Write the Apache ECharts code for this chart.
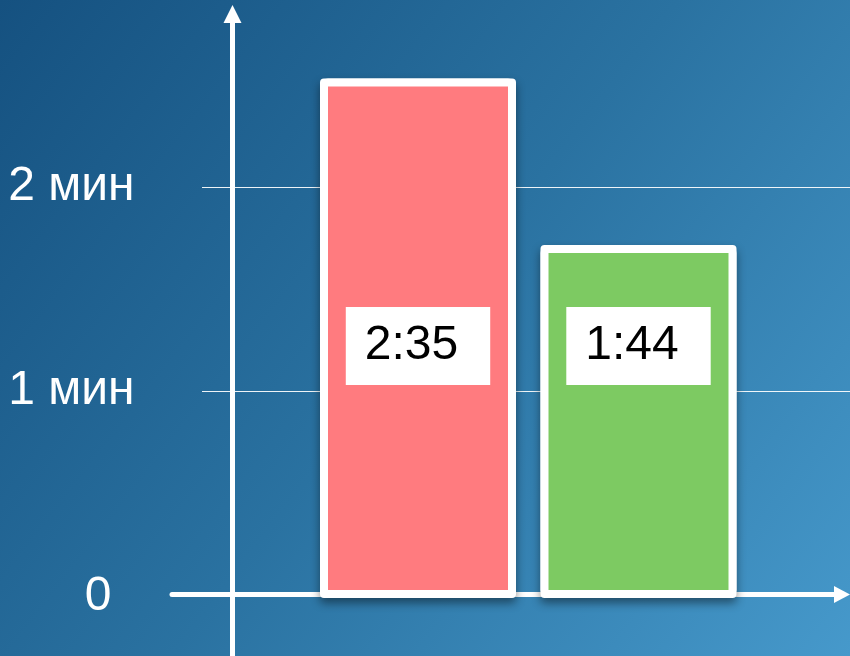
<!DOCTYPE html>
<html>
<head>
<meta charset="utf-8">
<script src="https://cdn.jsdelivr.net/npm/echarts@6/dist/echarts.min.js"></script>
<style>
html,body{margin:0;padding:0;}
#chart{width:850px;height:656px;}
</style>
</head>
<body>
<div id="chart"></div>
<script>
// ---- data ----
var categories = ['Вариант 1', 'Вариант 2'];
var barSeconds = [153, 104];          // bar heights (seconds)
var barLabels = ['2:35', '1:44'];     // labels printed on the bars
var tickValues = [0, 60, 120];        // y ticks in seconds
var tickLabels = ['0', '1 мин', '2 мин'];
var gridValues = [60, 120];
var barColors = ['#FF7B7F', '#7DCA62'];

// ---- layout ----
var W = 850, H = 656;
var TOP = 14, ZERO_Y = 594.5, YMAX = 171;
var pxPerSec = (ZERO_Y - TOP) / YMAX;
var YMIN_FULL = -(H - ZERO_Y) / pxPerSec;
var BAR_ZERO_Y = 598;
var BAR_YMAX = (BAR_ZERO_Y - TOP) / pxPerSec;
var FONT = "'Liberation Sans', Arial, sans-serif";

var chart = echarts.init(document.getElementById('chart'));
chart.setOption({
  animation: false,
  backgroundColor: {
    type: 'linear', x: 0, y: 0, x2: 1, y2: 1,
    colorStops: [
      {offset: 0, color: '#155180'},
      {offset: 0.5, color: '#2A72A1'},
      {offset: 1, color: '#4699CB'}
    ]
  },
  grid: [
    {left: 172, right: 8, top: TOP, bottom: 0},
    {left: 202, right: 0, top: TOP, bottom: H - ZERO_Y},
    {left: 307.75, right: 101.25, top: TOP, bottom: H - BAR_ZERO_Y}
  ],
  xAxis: [
    {gridIndex: 0, type: 'value', min: 0, max: 1,
     axisLine: {show: true, onZero: true, symbol: ['none', 'triangle'], symbolSize: [17, 16],
                lineStyle: {color: '#fff', width: 5}},
     axisTick: {show: false}, axisLabel: {show: false}, splitLine: {show: false}},
    {gridIndex: 1, type: 'value', min: 0, max: 1, show: false},
    {gridIndex: 2, type: 'category', data: categories, show: false}
  ],
  yAxis: [
    {gridIndex: 0, type: 'value', min: YMIN_FULL, max: YMAX, offset: -(232.5 - 172),
     axisLine: {show: true, onZero: false, symbol: ['none', 'triangle'], symbolSize: [18, 18],
                lineStyle: {color: '#fff', width: 5}},
     axisTick: {show: false, customValues: tickValues},
     splitLine: {show: false},
     axisLabel: {
       show: true, customValues: tickValues, margin: 98,
       color: '#fff', fontSize: 48, fontFamily: FONT,
       formatter: function (v) {
         var i = tickValues.indexOf(v);
         var t = i >= 0 ? tickLabels[i] : '';
         return v === 0 ? '{z|' + t + '}' : t;
       },
       rich: {z: {color: '#fff', fontSize: 48, fontFamily: FONT, padding: [4, 23, 0, 0]}}
     }},
    {gridIndex: 1, type: 'value', min: 0, max: YMAX,
     axisLine: {show: false},
     axisTick: {show: false, customValues: gridValues},
     axisLabel: {show: false, customValues: gridValues},
     splitLine: {show: true, lineStyle: {color: 'rgba(255,255,255,0.92)', width: 1}}},
    {gridIndex: 2, type: 'value', min: 0, max: BAR_YMAX, show: false}
  ],
  series: [
    {
      // drop shadow underneath the bars
      type: 'bar', name: 'shadow', silent: true,
      xAxisIndex: 2, yAxisIndex: 2, z: 1,
      barWidth: 196, barGap: '-100%',
      data: barSeconds,
      itemStyle: {
        color: '#fff', borderRadius: 4,
        shadowColor: 'rgba(0,0,0,0.45)', shadowBlur: 10, shadowOffsetY: 5
      }
    },
    {
      type: 'bar', name: 'time',
      xAxisIndex: 2, yAxisIndex: 2, z: 2,
      barWidth: 196, barGap: '-100%',
      data: barSeconds.map(function (v, i) {
        return {value: v, itemStyle: {color: barColors[i]}};
      }),
      itemStyle: {borderColor: '#fff', borderWidth: 8, borderRadius: 4},
      label: {
        show: true, position: 'insideBottom', distance: BAR_ZERO_Y - 385,
        formatter: function (p) { return barLabels[p.dataIndex]; },
        color: '#000', fontSize: 48, fontFamily: FONT, lineHeight: 48,
        backgroundColor: '#fff', padding: [15, 32, 15, 19]
      }
    }
  ]
});
</script>
</body>
</html>
